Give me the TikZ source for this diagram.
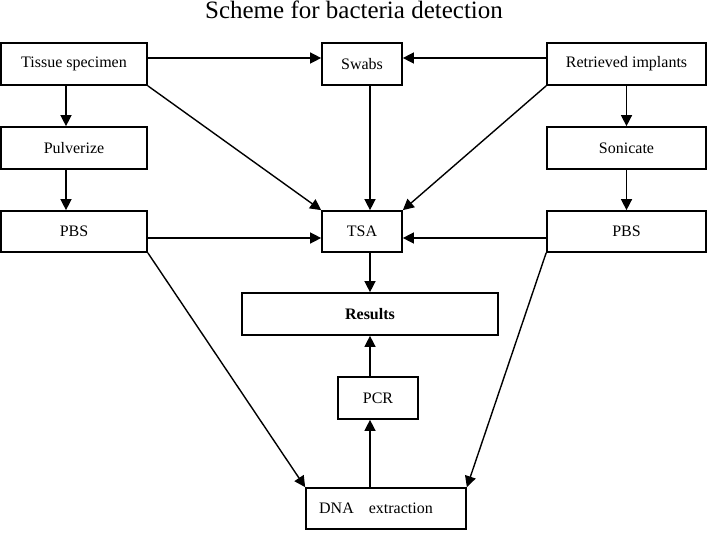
\documentclass[tikz,border=0pt]{standalone}
\usepackage{fontspec}
\setmainfont{Liberation Serif}
\usetikzlibrary{arrows.meta}
\begin{document}
\begin{tikzpicture}[x=1pt,y=-1pt,
  box/.style={draw,line width=1.7pt,inner sep=0pt,minimum height=42pt,font=\fontsize{16}{18}\selectfont},
  arr/.style={line width=1.4pt,-{Triangle[length=11pt,width=11pt]}}]
\useasboundingbox (0,0) rectangle (708,532);
\node[anchor=base,font=\fontsize{25}{28}\selectfont] (title) at (354,19) {Scheme for bacteria detection};
\node[box,minimum width=146pt] (tissue) at (74,64) {Tissue specimen};
\node[box,minimum width=80pt] (swabs) at (362,64) {Swabs};
\node[box,minimum width=159pt] (retr) at (626.5,64) {Retrieved implants};
\node[box,minimum width=146pt] (pulv) at (74,148) {Pulverize};
\node[box,minimum width=159pt] (son) at (626.5,148) {Sonicate};
\node[box,minimum width=146pt,minimum height=41pt] (pbsL) at (74,231.5) {PBS};
\node[box,minimum width=80pt,minimum height=41pt] (tsa) at (362,231.5) {TSA};
\node[box,minimum width=159pt,minimum height=41pt] (pbsR) at (626.5,231.5) {PBS};
\node[box,minimum width=256pt] (results) at (370,314) {\textbf{Results}};
\node[box,minimum width=80pt] (pcr) at (378,398) {PCR};
\node[box,minimum width=160pt,minimum height=41pt] (dna) at (386,508.5) {\hspace*{-20pt}DNA\hspace{15pt}extraction};
\draw[arr] ([yshift=6pt]tissue.east) -- ([yshift=6pt]swabs.west);
\draw[arr] ([yshift=6pt]retr.west) -- ([yshift=6pt]swabs.east);
\draw[arr] ([xshift=-8pt]tissue.south) -- ([xshift=-8pt]pulv.north);
\draw[arr] ([xshift=-8pt]pulv.south) -- ([xshift=-8pt]pbsL.north);
\draw[arr] (retr.south) -- (son.north);
\draw[arr] (son.south) -- (pbsR.north);
\draw[arr] ([xshift=8pt]swabs.south) -- ([xshift=8pt]tsa.north);
\draw[arr] (tissue.south east) -- (tsa.north west);
\draw[arr] (retr.south west) -- (tsa.north east);
\draw[arr] ([yshift=-6.5pt]pbsL.east) -- ([yshift=-6.5pt]tsa.west);
\draw[arr] ([yshift=-6.5pt]pbsR.west) -- ([yshift=-6.5pt]tsa.east);
\draw[arr] ([xshift=8pt]tsa.south) -- (results.north);
\draw[arr] ([xshift=-8pt]pcr.north) -- (results.south);
\draw[arr] ([xshift=-16pt]dna.north) -- ([xshift=-8pt]pcr.south);
\draw[arr] (pbsL.south east) -- (dna.north west);
\draw[arr] (pbsR.south west) -- (dna.north east);
\end{tikzpicture}
\end{document}
